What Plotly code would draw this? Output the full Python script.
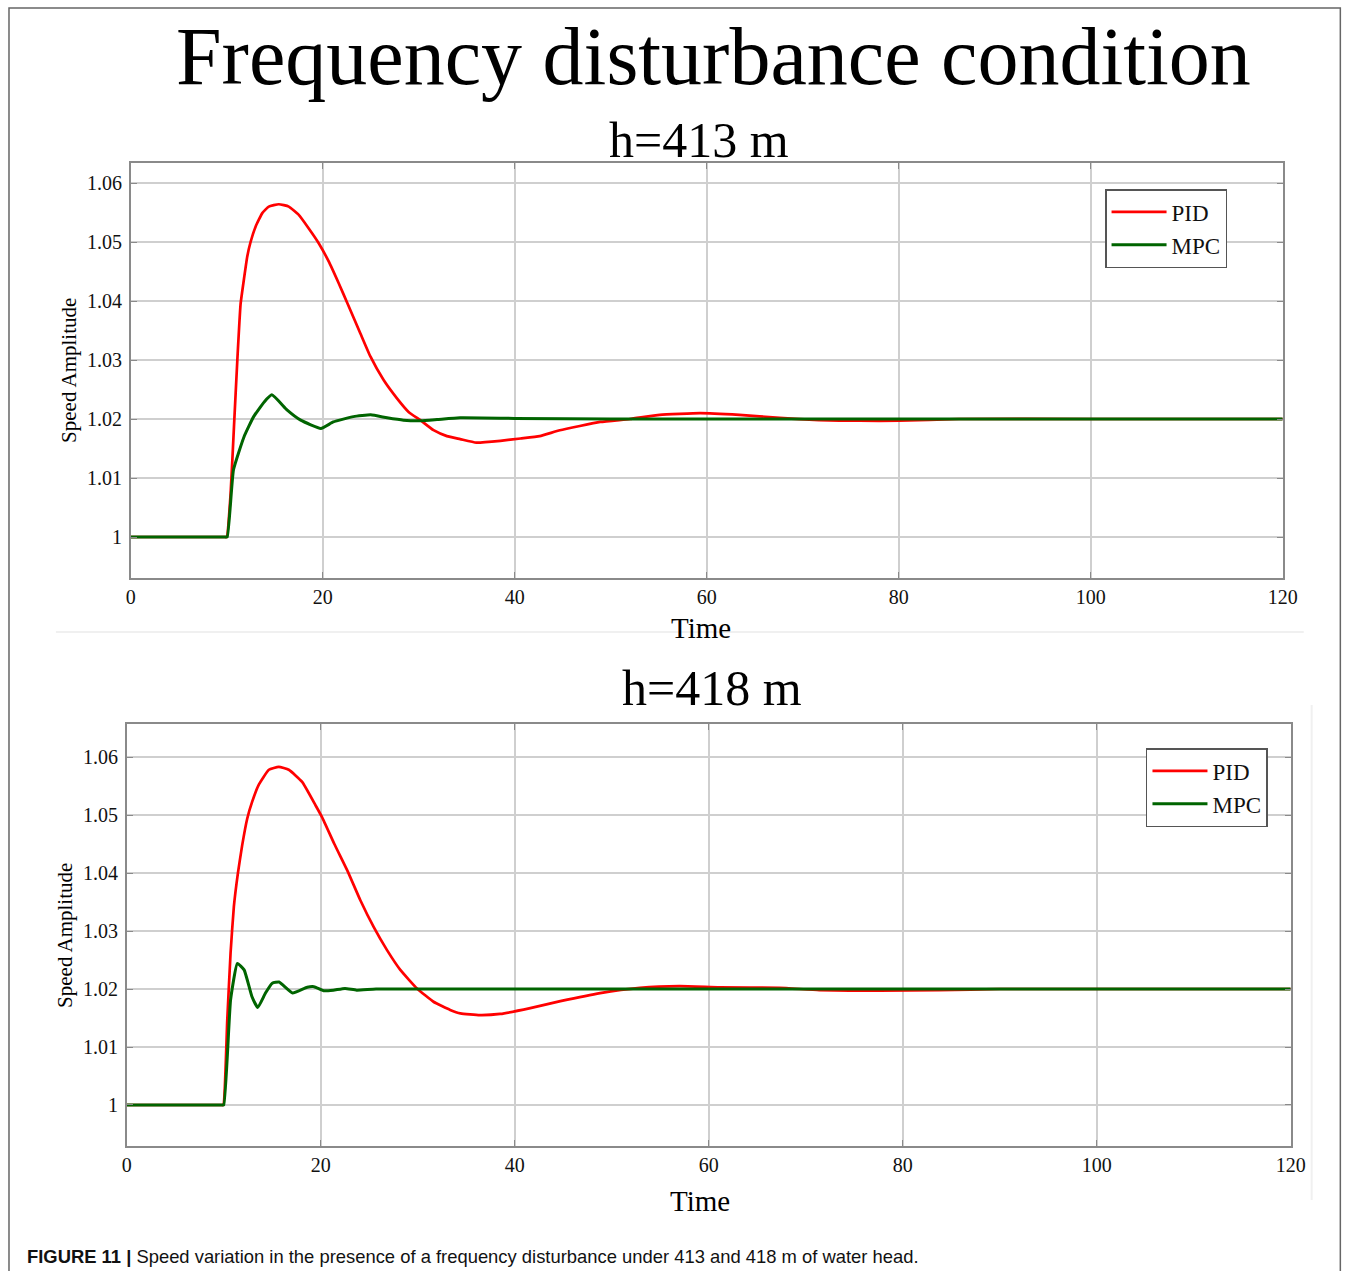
import plotly.graph_objects as go

# ---------------- data ----------------
t_pid_413 = [0, 9.8, 10, 10.4, 10.75, 11.1, 11.44, 11.78, 12.13, 12.48, 13.0, 13.7, 14.38, 15.42,
             16.46, 17.5, 18.54, 19.58, 20.62, 21.66, 22.6, 23.92, 24.96, 26.34, 27.73, 28.94,
             30.16, 31.54, 32.93, 34.31, 36.0, 38.5, 40.6, 42.6, 44.7, 48.9, 52.0, 55.1, 59.3,
             63.4, 67.6, 71.7, 75.9, 80.0, 86.3, 100, 120]
y_pid_413 = [1.0, 1.0, 1.0, 1.0074, 1.0187, 1.0300, 1.0395, 1.0436, 1.0475, 1.0500, 1.0526,
             1.0549, 1.0560, 1.0564, 1.0560, 1.0546, 1.0523, 1.0498, 1.0467, 1.0430, 1.0395,
             1.0345, 1.0306, 1.0266, 1.0235, 1.0212, 1.0198, 1.0181, 1.0171, 1.0166, 1.0160,
             1.0163, 1.0167, 1.0171, 1.0181, 1.0195, 1.0200, 1.0207, 1.0210, 1.0207, 1.0202,
             1.0198, 1.0197, 1.0197, 1.0200, 1.0200, 1.0200]

t_mpc_413 = [0, 9.85, 10.05, 10.7, 11.8, 12.8, 13.9, 14.7, 16.3, 17.7, 19.8, 21.1, 23.2, 25.0,
             26.7, 28.4, 30.2, 31.9, 34.3, 40, 50, 120]
y_mpc_413 = [1.0, 1.0, 1.0, 1.0114, 1.0170, 1.0204, 1.0229, 1.0241, 1.0215, 1.0198, 1.0184,
             1.0195, 1.0204, 1.0207, 1.0202, 1.0198, 1.0197, 1.0199, 1.0202, 1.0201, 1.0200,
             1.0200]

t_pid_418 = [0, 9.75, 9.95, 10.36, 10.7, 11.04, 11.45, 11.9, 12.42, 12.93, 13.6, 14.65, 15.67,
             16.7, 18.08, 19.45, 20.14, 21.4, 22.8, 24.08, 25.45, 26.83, 28.2, 29.92, 31.62,
             33.34, 34.4, 36.4, 38.5, 41.6, 44.7, 48.8, 52.9, 57.0, 61.1, 67.3, 71.4, 77.6,
             83.8, 90.0, 120]
y_pid_418 = [1.0, 1.0, 1.0, 1.0147, 1.0262, 1.0342, 1.0399, 1.0448, 1.0494, 1.0523, 1.0552,
             1.0578, 1.0583, 1.0578, 1.0557, 1.0517, 1.0496, 1.0450, 1.0402, 1.0353, 1.0307,
             1.0267, 1.0233, 1.0201, 1.0178, 1.0164, 1.0158, 1.0155, 1.0157, 1.0167, 1.0179,
             1.0193, 1.0202, 1.0205, 1.0203, 1.0202, 1.0198, 1.0197, 1.0198, 1.0200, 1.0200]

t_mpc_418 = [0, 9.8, 10.0, 10.7, 11.4, 12.1, 12.9, 13.5, 14.3, 15.0, 15.7, 17.1, 18.6, 19.3,
             20.3, 21.3, 22.5, 23.7, 25.7, 40, 120]
y_mpc_418 = [1.0, 1.0, 1.0, 1.0181, 1.0244, 1.0233, 1.0187, 1.0168, 1.0193, 1.0210, 1.0212,
             1.0193, 1.0203, 1.0204, 1.0197, 1.0198, 1.0201, 1.0198, 1.0200, 1.0200, 1.0200]

x_ticks = [0, 20, 40, 60, 80, 100, 120]
y_ticks = [1.0, 1.01, 1.02, 1.03, 1.04, 1.05, 1.06]
y_tick_text = ["1", "1.01", "1.02", "1.03", "1.04", "1.05", "1.06"]

main_title = "Frequency disturbance condition"
sub_titles = ["h=413 m", "h=418 m"]
caption = "<b>FIGURE 11 |</b> Speed variation in the presence of a frequency disturbance under 413 and 418 m of water head."

# ---------------- figure ----------------
W, H = 1356, 1271
SERIF = "Liberation Serif, Times New Roman, serif"
RED = "#ff0000"
GREEN = "#006400"


def px(x):
    # target screen x (pixels) -> paper fraction (compensates observed horizontal fit)
    v = ((x - 4) / 0.987) / W
    return min(max(v, 0.0), 0.9995)


def py(y):
    return 1 - y / H


fig = go.Figure()

line_shape = dict(shape="spline", smoothing=0.4)
fig.add_trace(go.Scatter(x=t_pid_413, y=y_pid_413, mode="lines", name="PID",
                         line=dict(color=RED, width=2.7, **line_shape), xaxis="x", yaxis="y",
                         legend="legend"))
fig.add_trace(go.Scatter(x=t_mpc_413, y=y_mpc_413, mode="lines", name="MPC",
                         line=dict(color=GREEN, width=3, **line_shape), xaxis="x", yaxis="y",
                         legend="legend"))
fig.add_trace(go.Scatter(x=t_pid_418, y=y_pid_418, mode="lines", name="PID",
                         line=dict(color=RED, width=2.7, **line_shape), xaxis="x2", yaxis="y2",
                         legend="legend2"))
fig.add_trace(go.Scatter(x=t_mpc_418, y=y_mpc_418, mode="lines", name="MPC",
                         line=dict(color=GREEN, width=3, **line_shape), xaxis="x2", yaxis="y2",
                         legend="legend2"))

axis_common = dict(
    showgrid=True, gridcolor="#cfcfcf", gridwidth=1.5,
    showline=True, linecolor="#8a8a8a", linewidth=1.5, mirror="allticks",
    ticks="inside", ticklen=6, tickcolor="#8a8a8a", tickwidth=1,
    zeroline=False,
    tickfont=dict(family=SERIF, size=20, color="#111111"),
)

legend_common = dict(xanchor="left", yanchor="top",
                     bgcolor="white", bordercolor="#555555", borderwidth=1.5,
                     font=dict(family=SERIF, size=23, color="#111111"),
                     tracegroupgap=0, itemwidth=55)

fig.update_layout(
    width=W, height=H,
    margin=dict(l=0, r=0, t=0, b=0),
    paper_bgcolor="white", plot_bgcolor="white",
    showlegend=True,
    xaxis=dict(domain=[px(130), px(1284)], range=[0, 120], tickvals=x_ticks,
               anchor="y", **axis_common),
    yaxis=dict(domain=[py(578), py(163)], range=[0.99305, 1.06339], tickvals=y_ticks,
               ticktext=y_tick_text, anchor="x", ticklabelstandoff=3, **axis_common),
    xaxis2=dict(domain=[px(126), px(1292)], range=[0, 120], tickvals=x_ticks,
                anchor="y2", **axis_common),
    yaxis2=dict(domain=[py(1146), py(724)], range=[0.99293, 1.06569], tickvals=y_ticks,
                ticktext=y_tick_text, anchor="x2", ticklabelstandoff=3, **axis_common),
    legend=dict(x=px(1106), y=py(189), **legend_common),
    legend2=dict(x=px(1147), y=py(748), **legend_common),
)

annotations = [
    dict(text=main_title, x=px(714), y=py(57), font=dict(family=SERIF, size=82, color="#000")),
    dict(text=sub_titles[0], x=px(699), y=py(140), font=dict(family=SERIF, size=50, color="#000")),
    dict(text=sub_titles[1], x=px(712), y=py(688), font=dict(family=SERIF, size=50, color="#000")),
    dict(text="Time", x=px(701), y=py(628), font=dict(family=SERIF, size=29, color="#000")),
    dict(text="Time", x=px(700), y=py(1201), font=dict(family=SERIF, size=29, color="#000")),
    dict(text="Speed Amplitude", x=px(68), y=py(370), textangle=-90,
         font=dict(family=SERIF, size=21, color="#000")),
    dict(text="Speed Amplitude", x=px(64), y=py(935), textangle=-90,
         font=dict(family=SERIF, size=21, color="#000")),
]
for a in annotations:
    fig.add_annotation(xref="paper", yref="paper", showarrow=False,
                       xanchor="center", yanchor="middle", **a)

fig.add_annotation(text=caption, xref="paper", yref="paper", x=px(24), y=py(1256),
                   xanchor="left", yanchor="middle", showarrow=False,
                   font=dict(family="Liberation Sans, Arial, sans-serif", size=18.4, color="#111"))

# outer frame and faint separators
fig.add_shape(type="rect", xref="paper", yref="paper", x0=px(8), x1=px(1352),
              y0=-0.02, y1=py(8), line=dict(color="#666666", width=1.5), layer="below")
fig.add_shape(type="line", xref="paper", yref="paper", x0=px(55), x1=px(1305),
              y0=py(632), y1=py(632), line=dict(color="#f0f0f0", width=2), layer="below")
fig.add_shape(type="line", xref="paper", yref="paper", x0=px(1313), x1=px(1313),
              y0=py(705), y1=py(1200), line=dict(color="#f0f0f0", width=2), layer="below")

fig.write_html(
    "out.html",
    post_script=(
        "document.documentElement.style.margin='0';document.body.style.margin='0';"
        "document.documentElement.style.overflow='hidden';document.body.style.overflow='hidden';"
    ),
)
